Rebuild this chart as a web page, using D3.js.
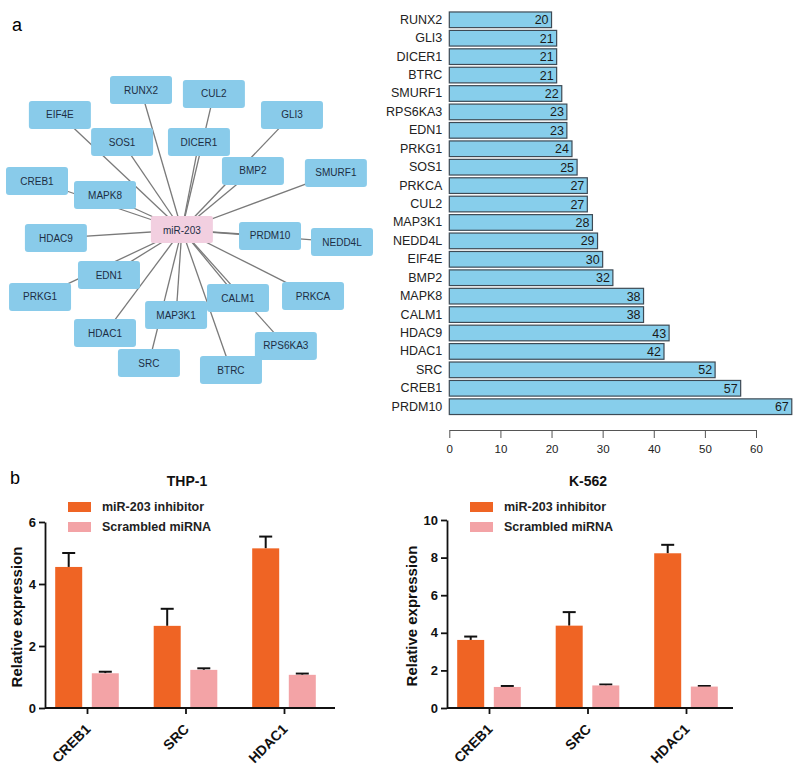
<!DOCTYPE html>
<html><head><meta charset="utf-8">
<script src="https://cdn.jsdelivr.net/npm/d3@7"></script>
<style>body{margin:0;background:#fff}svg{display:block}text{font-family:Arial,"Liberation Sans",sans-serif}</style>
</head><body>
<svg id="c" width="800" height="768"></svg>
<script>
// ---------- data ----------
const hubName = "miR-203";
const targets = ["RUNX2","CUL2","EIF4E","GLI3","SOS1","DICER1","BMP2","SMURF1","CREB1","MAPK8","HDAC9","PRDM10","NEDD4L","EDN1","PRKG1","CALM1","PRKCA","MAP3K1","HDAC1","RPS6KA3","SRC","BTRC"];
// network layout (layout units, 0..100 in each direction)
const layoutX = [34.1,58.0,7.5,83.6,27.9,53.1,70.8,98.0,0,22.3,6.2,76.4,100,23.6,1.0,65.9,90.5,45.6,22.3,81.6,36.7,63.6];
const layoutY = [0,1.4,8.9,8.9,18.6,18.6,28.9,29.6,32.5,37.5,52.9,52.1,54.3,66.1,73.9,74.3,73.6,80.4,86.8,91.4,97.5,100];
const hubLayout = [47.5,50.0];

const barGenes = ["RUNX2","GLI3","DICER1","BTRC","SMURF1","RPS6KA3","EDN1","PRKG1","SOS1","PRKCA","CUL2","MAP3K1","NEDD4L","EIF4E","BMP2","MAPK8","CALM1","HDAC9","HDAC1","SRC","CREB1","PRDM10"];
const barValues = [20,21,21,21,22,23,23,24,25,27,27,28,29,30,32,38,38,43,42,52,57,67];
const barTicks = [0,10,20,30,40,50,60];

const groups = ["CREB1","SRC","HDAC1"];
const seriesNames = ["miR-203 inhibitor","Scrambled miRNA"];
const thpInhibitor = [4.55,2.65,5.15];
const thpInhibitorErr = [0.45,0.55,0.38];
const thpScrambled = [1.12,1.23,1.07];
const thpScrambledErr = [0.05,0.05,0.04];
const kInhibitor = [3.62,4.38,8.23];
const kInhibitorErr = [0.18,0.72,0.45];
const kScrambled = [1.12,1.2,1.14];
const kScrambledErr = [0.05,0.05,0.03];
const thpTicks = [0,2,4,6];
const kTicks = [0,2,4,6,8,10];

// ---------- drawing ----------
const FONT = "Arial, 'Liberation Sans', sans-serif";
const svg = d3.select("#c");
svg.append("text").attr("x",12).attr("y",31).attr("font-size",18).text("a");
svg.append("text").attr("x",10).attr("y",484).attr("font-size",18).text("b");

// Network
const nx = d3.scaleLinear().domain([0,100]).range([37,342]);
const ny = d3.scaleLinear().domain([0,100]).range([90,370]);
const net = svg.append("g");
const hub = {x:nx(hubLayout[0]), y:ny(hubLayout[1])};
const nodes = targets.map((t,i)=>({name:t,x:nx(layoutX[i]),y:ny(layoutY[i])}));
net.selectAll("line.edge").data(nodes).join("line")
  .attr("x1",hub.x).attr("y1",hub.y).attr("x2",d=>d.x).attr("y2",d=>d.y)
  .attr("stroke","#7a7a7a").attr("stroke-width",1.3);
const NW=62, NH=28;
const ng = net.selectAll("g.node").data(nodes).join("g").attr("transform",d=>`translate(${d.x},${d.y})`);
ng.append("rect").attr("x",-NW/2).attr("y",-NH/2).attr("width",NW).attr("height",NH).attr("rx",3)
  .attr("fill","#89CBEA");
ng.append("text").attr("text-anchor","middle").attr("dy","0.35em").attr("font-size",10).attr("fill","#1d2e44").text(d=>d.name);
const hg = net.append("g").attr("transform",`translate(${hub.x},${hub.y})`);
hg.append("rect").attr("x",-31).attr("y",-14).attr("width",62).attr("height",27).attr("rx",2).attr("fill","#F2CFE0");
hg.append("text").attr("text-anchor","middle").attr("dy","0.35em").attr("font-size",10).attr("fill","#1d2e44").text(hubName);

// Horizontal bar chart
const bx = d3.scaleLinear().domain([0,60]).range([449.3,756]);
const by = d3.scaleBand().domain(barGenes).range([10.5,416]).paddingInner(0.15).paddingOuter(0.08);
const bg = svg.append("g");
bg.selectAll("rect").data(barGenes).join("rect")
  .attr("x",bx(0)).attr("y",d=>by(d)).attr("width",(d,i)=>bx(barValues[i])-bx(0)).attr("height",by.bandwidth())
  .attr("fill","#87CEEB").attr("stroke","#3d4a55").attr("stroke-width",1.2);
bg.selectAll("text.val").data(barGenes).join("text").attr("class","val")
  .attr("x",(d,i)=>bx(barValues[i])-3).attr("y",d=>by(d)+by.bandwidth()/2).attr("dy","0.36em")
  .attr("text-anchor","end").attr("font-size",12.5).attr("fill","#1a1a1a").text((d,i)=>barValues[i]);
const yAx = bg.append("g").attr("transform",`translate(${bx(0)-7},0)`).call(d3.axisLeft(by).tickSize(0).tickPadding(0));
yAx.select(".domain").remove();
yAx.selectAll("text").attr("font-size",12.5).attr("fill","#222").style("font-family",FONT);
const xAx = bg.append("g").attr("transform","translate(0,430)").call(d3.axisBottom(bx).tickValues(barTicks).tickSize(8).tickSizeOuter(0).tickPadding(7));
xAx.select(".domain").attr("stroke","#555");
xAx.selectAll("line").attr("stroke","#555");
xAx.selectAll("text").attr("font-size",11.5).attr("fill","#222").style("font-family",FONT);

// Grouped bar charts
function groupChart(opt){
  const g = svg.append("g");
  const y = d3.scaleLinear().domain([0,opt.max]).range([708,opt.top]);
  const x = d3.scalePoint().domain(groups).range([opt.c0,opt.c1]);
  const colors = ["#EF6424","#F3A3A6"];
  const bw = 27, off = 18.3;
  const series = [[opt.a,opt.aErr],[opt.b,opt.bErr]];
  series.forEach(([vals,errs],si)=>{
    const shift = si===0 ? -off : off;
    groups.forEach((gr,i)=>{
      const cx = x(gr)+shift;
      const top = y(vals[i]+errs[i]);
      g.append("line").attr("x1",cx).attr("x2",cx).attr("y1",y(vals[i])).attr("y2",top).attr("stroke","#111").attr("stroke-width",2);
      g.append("line").attr("x1",cx-6.5).attr("x2",cx+6.5).attr("y1",top).attr("y2",top).attr("stroke","#111").attr("stroke-width",2);
    });
    g.selectAll(null).data(groups).join("rect")
      .attr("x",d=>x(d)+shift-bw/2).attr("width",bw)
      .attr("y",(d,i)=>y(vals[i])).attr("height",(d,i)=>y(0)-y(vals[i]))
      .attr("fill",colors[si]);
  });
  const ya = g.append("g").attr("transform",`translate(${opt.x0},0)`).call(d3.axisLeft(y).tickValues(opt.ticks).tickSize(6).tickSizeOuter(0).tickFormat(d3.format("d")));
  ya.selectAll("path,line").attr("stroke","#111").attr("stroke-width",1.8);
  ya.selectAll("text").attr("font-size",13).attr("font-weight","bold").attr("fill","#111").style("font-family",FONT);
  const xa = g.append("g").attr("transform","translate(0,708)").call(d3.axisBottom(x).tickSize(6).tickSizeOuter(0));
  xa.select(".domain").remove();
  xa.append("line").attr("x1",opt.x0).attr("x2",opt.x1).attr("y1",0).attr("y2",0).attr("stroke","#111").attr("stroke-width",1.8);
  xa.selectAll("line").attr("stroke","#111").attr("stroke-width",1.8);
  xa.selectAll("text").attr("font-size",14).attr("font-weight","bold").attr("fill","#111")
    .style("font-family",FONT)
    .attr("text-anchor","end").attr("x",0).attr("y",0).attr("dy",0)
    .attr("transform","translate(4,22) rotate(-45)");
  // ylabel
  g.append("text").attr("transform",`translate(${opt.x0-opt.lab},${(708+opt.top)/2+2}) rotate(-90)`)
    .attr("text-anchor","middle").attr("font-size",15).attr("font-weight","bold").attr("fill","#111").text("Relative expression");
  // title
  g.append("text").attr("x",opt.tx).attr("y",486).attr("text-anchor","middle").attr("font-size",14).attr("font-weight","bold").attr("fill","#111").text(opt.title);
  // legend
  seriesNames.forEach((s,i)=>{
    g.append("rect").attr("x",opt.lx).attr("y",502+i*20).attr("width",23).attr("height",10).attr("fill",colors[i]);
    g.append("text").attr("x",opt.lx+34).attr("y",507+i*20).attr("dy","0.35em").attr("font-size",12.5).attr("font-weight","bold").attr("fill","#222").text(s);
  });
}
groupChart({title:"THP-1",x0:45,x1:335,c0:87,c1:284,top:522,max:6,ticks:thpTicks,a:thpInhibitor,aErr:thpInhibitorErr,b:thpScrambled,bErr:thpScrambledErr,tx:187,lx:68,lab:23});
groupChart({title:"K-562",x0:447,x1:733,c0:489,c1:686,top:520,max:10,ticks:kTicks,a:kInhibitor,aErr:kInhibitorErr,b:kScrambled,bErr:kScrambledErr,tx:588,lx:470,lab:30});
</script>
</body></html>
